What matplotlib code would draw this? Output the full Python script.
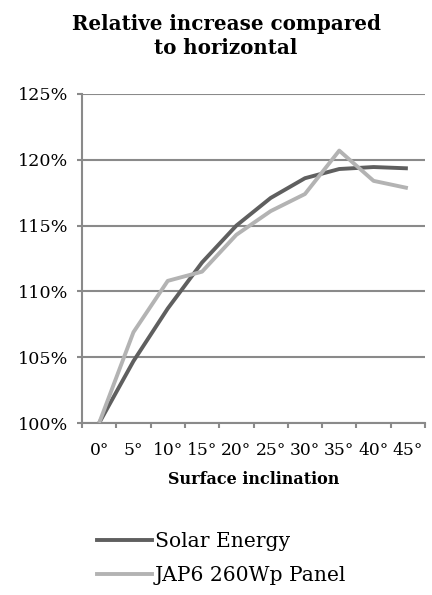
#!/usr/bin/env python3
"""Relative increase compared to horizontal, by surface inclination."""

import matplotlib
matplotlib.use("Agg")
import matplotlib.pyplot as plt
from matplotlib.lines import Line2D
from matplotlib.ticker import FuncFormatter, MultipleLocator

# ---------------------------------------------------------------------------
# Data
# ---------------------------------------------------------------------------
inclinations = ["0°", "5°", "10°", "15°", "20°", "25°", "30°", "35°", "40°", "45°"]
solar_energy = [100.0, 104.7, 108.7, 112.2, 115.0, 117.1, 118.6, 119.3, 119.45, 119.35]
jap6_panel = [100.0, 106.9, 110.8, 111.5, 114.3, 116.1, 117.4, 120.7, 118.4, 117.85]
y_ticks = [100, 105, 110, 115, 120, 125]

DARK = "#5f5f5f"
LIGHT = "#b3b3b3"
GRID = "#8a8a8a"
FONT = "DejaVu Serif"

plt.rcParams["font.family"] = [FONT]

# ---------------------------------------------------------------------------
# Figure
# ---------------------------------------------------------------------------
fig = plt.figure(figsize=(4.32, 5.95), dpi=100)
fig.patch.set_facecolor("white")
ax = fig.add_axes([82 / 432, 1 - 423 / 595, 343 / 432, 329 / 595])

x = list(range(len(inclinations)))
ax.plot(x, solar_energy, color=DARK, linewidth=2.8, solid_capstyle="butt", zorder=3)
ax.plot(x, jap6_panel, color=LIGHT, linewidth=2.8, solid_capstyle="butt", zorder=3)

# -- axes ------------------------------------------------------------------
ax.set_xlim(-0.5, len(inclinations) - 0.5)
ax.set_ylim(y_ticks[0], y_ticks[-1])
ax.set_yticks(y_ticks)
ax.yaxis.set_major_formatter(FuncFormatter(lambda v, _: f"{v:.0f}%"))
ax.yaxis.grid(True, color=GRID, linewidth=1.5)
ax.set_axisbelow(True)

ax.set_xticks(x)
ax.set_xticklabels(inclinations)
ax.xaxis.set_minor_locator(MultipleLocator(1, offset=0.5))
ax.tick_params(axis="x", which="major", length=0, pad=14, labelsize=12.3)
ax.tick_params(axis="x", which="minor", length=3.6, width=1.5, color=GRID,
               direction="out")
ax.tick_params(axis="y", length=3.6, width=1.5, color=GRID, pad=6.5,
               labelsize=12.6, direction="out")

for side in ("top", "right"):
    ax.spines[side].set_visible(False)
for side in ("left", "bottom"):
    ax.spines[side].set_color(GRID)
    ax.spines[side].set_linewidth(1.5)

ax.set_xlabel("Surface inclination", fontsize=11.5, fontweight="bold")
ax.xaxis.set_label_coords(0.5, (423 - 480) / 329)
ax.xaxis.label.set_va("center")

# -- title -------------------------------------------------------------------
fig.text(226 / 432, 1 - 36 / 595, "Relative increase compared\nto horizontal",
         ha="center", va="center", fontsize=14.3, fontweight="bold",
         linespacing=1.2)

# -- legend ------------------------------------------------------------------
handles = [
    Line2D([], [], color=DARK, linewidth=2.8),
    Line2D([], [], color=LIGHT, linewidth=2.8),
]
fig.legend(handles, ["Solar Energy", "JAP6 260Wp Panel"],
           loc="upper left", bbox_to_anchor=(97 / 432, 1 - 532 / 595),
           frameon=False, fontsize=14.6, handlelength=2.7, handletextpad=0.15,
           labelspacing=0.75, borderpad=0, borderaxespad=0)

fig.savefig("out.png", dpi=100, facecolor="white")
